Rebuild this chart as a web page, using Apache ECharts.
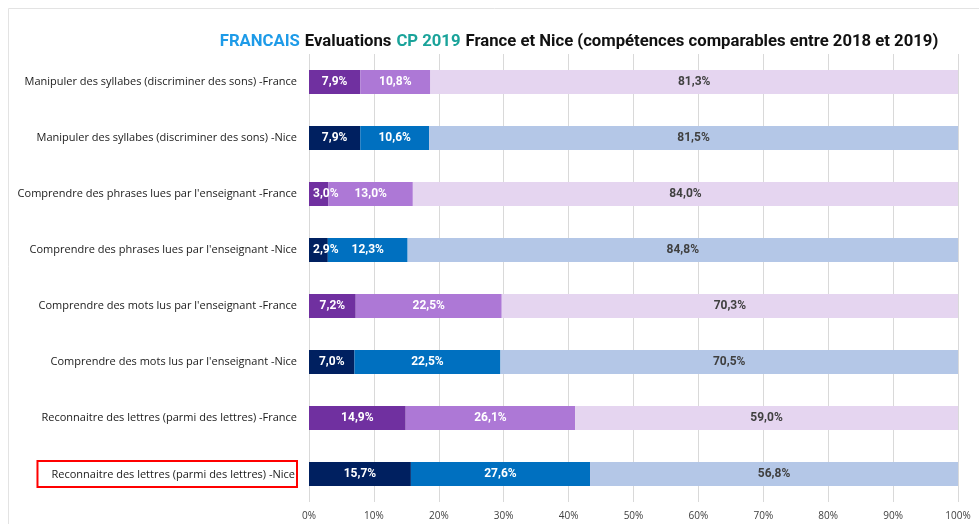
<!DOCTYPE html>
<html>
<head>
<meta charset="utf-8">
<script src="https://cdn.jsdelivr.net/npm/echarts@6/dist/echarts.min.js"></script>
<style>
  html, body { margin: 0; padding: 0; background: #fff; }
  #chart { width: 979px; height: 524px; }
</style>
</head>
<body>
<div id="chart"></div>
<script>
// categories, top to bottom
const categories = [
  'Manipuler des syllabes (discriminer des sons) -France',
  'Manipuler des syllabes (discriminer des sons) -Nice',
  "Comprendre des phrases lues par l'enseignant -France",
  "Comprendre des phrases lues par l'enseignant -Nice",
  "Comprendre des mots lus par l'enseignant -France",
  "Comprendre des mots lus par l'enseignant -Nice",
  'Reconnaitre des lettres (parmi des lettres) -France',
  'Reconnaitre des lettres (parmi des lettres) -Nice'
]
const seriesNames = ['Groupe à besoins', 'Groupe fragile', 'Maîtrise satisfaisante']
const besoins = [7.9, 7.9, 3.0, 2.9, 7.2, 7.0, 14.9, 15.7]
const fragile = [10.8, 10.6, 13.0, 12.3, 22.5, 22.5, 26.1, 27.6]
const satisf = [81.3, 81.5, 84.0, 84.8, 70.3, 70.5, 59.0, 56.8]
const xTicks = [0, 10, 20, 30, 40, 50, 60, 70, 80, 90, 100]

// couleurs France / Nice
const franceColors = ['#7030A0', '#AD78D6', '#E5D5F0']
const niceColors = ['#002060', '#0070C0', '#B4C7E7']
const labelColors = ['#ffffff', '#ffffff', '#404040']

const fmt = v => v.toFixed(1).replace('.', ',') + '%'

const chart = echarts.init(document.getElementById('chart'))

const makeSeries = (name, data, k) => ({
  type: 'bar',
  name: name,
  stack: 'total',
  // petites barres : étiquette calée à gauche comme dans Excel
  data: data.map(v => (v < 5 ? { value: v, label: { position: 'insideLeft', distance: 4 } } : v)),
  barWidth: 24,
  itemStyle: {
    color: p => (categories[p.dataIndex].endsWith('-Nice') ? niceColors[k] : franceColors[k])
  },
  label: {
    show: true,
    position: 'inside',
    formatter: p => fmt(p.value),
    color: labelColors[k],
    fontFamily: 'Roboto',
    fontWeight: 'bold',
    fontSize: 12
  }
})

chart.setOption({
  animation: false,
  title: {
    text: '{a|FRANCAIS} {b|Evaluations} {c|CP 2019} {b|France et Nice (compétences comparables entre 2018 et 2019)}',
    left: 574,
    textAlign: 'center',
    top: 28,
    textStyle: {
      rich: {
        a: { color: '#1E9BE8', fontFamily: 'Roboto', fontWeight: 'bold', fontSize: 16.7 },
        b: { color: '#111', fontFamily: 'Roboto', fontWeight: 'bold', fontSize: 16.7 },
        c: { color: '#1AA39A', fontFamily: 'Roboto', fontWeight: 'bold', fontSize: 16.7 }
      }
    }
  },
  graphic: [{
    type: 'rect',
    silent: true,
    shape: { x: 8.5, y: 8.5, width: 1000, height: 600 },
    style: { fill: 'none', stroke: '#e3e3e3', lineWidth: 1 }
  }],
  grid: { left: 309, right: 21, top: 54, bottom: 22 },
  xAxis: {
    type: 'value',
    min: 0,
    max: 100,
    interval: 10,
    axisLine: { show: false },
    axisTick: { show: false },
    splitLine: { lineStyle: { color: '#d9d9d9', width: 1 } },
    axisLabel: {
      formatter: v => (xTicks.includes(v) ? v + '%' : ''),
      color: '#404040',
      fontFamily: 'Open Sans',
      fontSize: 10,
      margin: 9
    }
  },
  yAxis: {
    type: 'category',
    inverse: true,
    data: categories,
    axisLine: { show: false },
    axisTick: { show: false },
    axisLabel: {
      margin: 12,
      color: '#1a1a1a',
      fontFamily: 'Open Sans',
      fontSize: 11,
      formatter: (v, i) => (i === categories.length - 1 ? '{box|' + v + '}' : v),
      rich: {
        box: {
          fontFamily: 'Open Sans',
          fontSize: 11,
          color: '#1a1a1a',
          borderColor: '#ff0000',
          borderWidth: 2,
          padding: [8, 2, 7, 14]
        }
      }
    }
  },
  series: [
    makeSeries(seriesNames[0], besoins, 0),
    makeSeries(seriesNames[1], fragile, 1),
    makeSeries(seriesNames[2], satisf, 2)
  ]
})

window.addEventListener('resize', () => chart.resize())
</script>
</body>
</html>
